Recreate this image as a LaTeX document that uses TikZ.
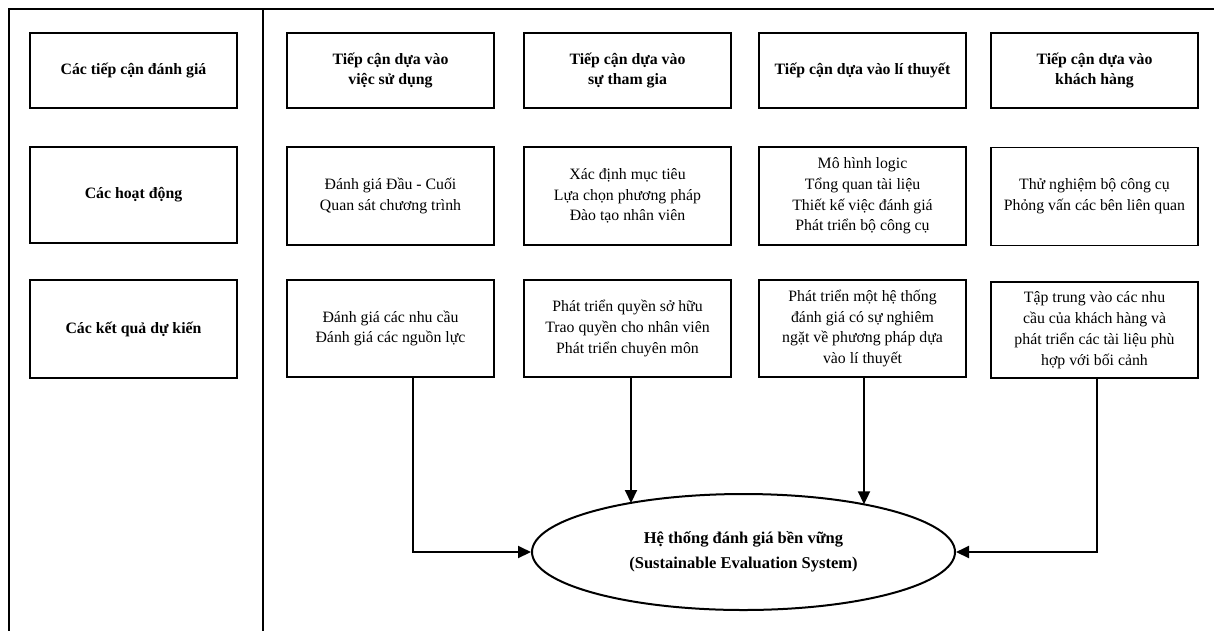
\documentclass[tikz,border=0pt]{standalone}
\usepackage{fontspec}
\setmainfont{Liberation Serif}
\usetikzlibrary{shapes.geometric,arrows.meta}
\tikzset{
  box/.style={draw, line width=1.3pt, minimum width=207pt, align=center, inner sep=2pt,
    font=\fontsize{15.8}{20.8}\selectfont},
  hbox/.style={box, font=\fontsize{15.8}{20}\selectfont\bfseries},
  frame/.style={line width=2.5pt},
  arr/.style={line width=2pt, -{Triangle[length=13pt,width=12pt]}},
}
\begin{document}
\begin{tikzpicture}[x=1pt,y=-1pt]
\useasboundingbox (0,0) rectangle (1214,630);
% frame
\draw[frame] (9,631) -- (9,9) -- (1214,9);
\draw[frame] (263,9) -- (263,631);
% left column
\node[hbox, minimum height=75pt] (l1) at (133.5,70.5) {Các tiếp cận đánh giá};
\node[hbox, minimum height=96pt] (l2) at (133.5,195) {Các hoạt động};
\node[hbox, minimum height=98pt] (l3) at (133.5,329) {Các kết quả dự kiến};
% row 1
\node[hbox, minimum height=75pt] (h1) at (390.5,70.5) {Tiếp cận dựa vào\\việc sử dụng};
\node[hbox, minimum height=75pt] (h2) at (627.5,70.5) {Tiếp cận dựa vào\\sự tham gia};
\node[hbox, minimum height=75pt] (h3) at (862.5,70.5) {Tiếp cận dựa vào lí thuyết};
\node[hbox, minimum height=75pt] (h4) at (1094.5,70.5) {Tiếp cận dựa vào\\khách hàng};
% row 2
\node[box, minimum height=98pt] (a1) at (390.5,196) {Đánh giá Đầu - Cuối\\Quan sát chương trình};
\node[box, minimum height=98pt] (a2) at (627.5,196) {Xác định mục tiêu\\Lựa chọn phương pháp\\Đào tạo nhân viên};
\node[box, minimum height=98pt] (a3) at (862.5,196) {Mô hình logic\\Tổng quan tài liệu\\Thiết kế việc đánh giá\\Phát triển bộ công cụ};
\node[box, minimum height=98pt] (a4) at (1094.5,196.5) {Thử nghiệm bộ công cụ\\Phỏng vấn các bên liên quan};
% row 3
\node[box, minimum height=97pt] (r1) at (390.5,328.5) {Đánh giá các nhu cầu\\Đánh giá các nguồn lực};
\node[box, minimum height=97pt] (r2) at (627.5,328.5) {Phát triển quyền sở hữu\\Trao quyền cho nhân viên\\Phát triển chuyên môn};
\node[box, minimum height=97pt] (r3) at (862.5,328.5) {Phát triển một hệ thống\\đánh giá có sự nghiêm\\ngặt về phương pháp dựa\\vào lí thuyết};
\node[box, minimum height=96pt] (r4) at (1094.5,330) {Tập trung vào các nhu\\cầu của khách hàng và\\phát triển các tài liệu phù\\hợp với bối cảnh};
% ellipse
\node[draw, ellipse, line width=2pt, minimum width=423pt, minimum height=116pt, inner sep=0pt,
  align=center, font=\fontsize{16.5}{25}\selectfont\bfseries] (ses) at (743.5,552)
  {Hệ thống đánh giá bền vững\\(Sustainable Evaluation System)};
% arrows
\coordinate (t2) at (631,503);
\coordinate (t3) at (864,504.3);
\draw[arr] ([xshift=22.5pt]r1.south) |- (ses.west);
\draw[arr] ([xshift=3.5pt]r2.south) -- (t2);
\draw[arr] ([xshift=1.5pt]r3.south) -- (t3);
\draw[arr] ([xshift=2.5pt]r4.south) |- (ses.east);
\end{tikzpicture}
\end{document}
